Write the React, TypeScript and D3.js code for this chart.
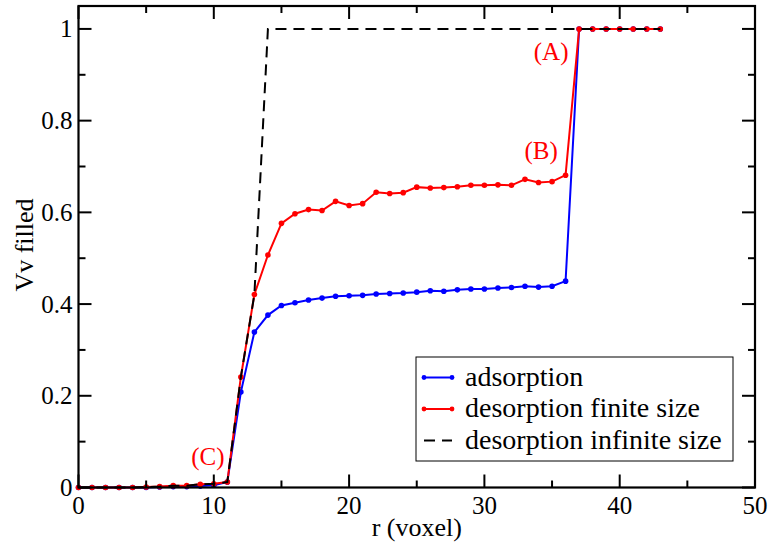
import React from "react";
import * as d3 from "d3";

const rValues = [0,1,2,3,4,5,6,7,8,9,10,11,12,13,14,15,16,17,18,19,20,21,22,23,24,25,26,27,28,29,30,31,32,33,34,35,36,37,38,39,40,41,42,43];
const adsorption = [0,0,0,0,0,0,0.001,0.002,0.002,0.003,0.005,0.012,0.208,0.339,0.376,0.397,0.403,0.409,0.413,0.417,0.418,0.419,0.422,0.423,0.424,0.426,0.429,0.428,0.431,0.433,0.433,0.435,0.436,0.439,0.437,0.439,0.450,1,1,1,1,1,1,1];
const desorptionFinite = [0,0,0,0,0,0.001,0.002,0.004,0.004,0.007,0.008,0.012,0.241,0.421,0.507,0.576,0.597,0.606,0.604,0.624,0.615,0.619,0.644,0.641,0.643,0.655,0.653,0.654,0.656,0.659,0.659,0.660,0.659,0.672,0.665,0.667,0.681,1,1,1,1,1,1,1];
const desorptionInfinite = [0,0,0,0,0,0.001,0.002,0.004,0.004,0.007,0.008,0.012,0.241,0.421,1,1,1,1,1,1,1,1,1,1,1,1,1,1,1,1,1,1,1,1,1,1,1,1,1,1,1,1,1,1];
const xTicks = [0,10,20,30,40,50];
const xMinor = [5,15,25,35,45];
const yTicks = [0,0.2,0.4,0.6,0.8,1];
const yTickLabels = ["0","0.2","0.4","0.6","0.8","1"];
const yMinor = [0.1,0.3,0.5,0.7,0.9];
const legendLabels = ["adsorption","desorption finite size","desorption infinite size"];
const annotations = [
  { label: "(A)", r: 37, v: 1 },
  { label: "(B)", r: 36, v: 0.681 },
  { label: "(C)", r: 11, v: 0.012 },
];

const W = 771, H = 547;
const L = 78.5, R = 755, T = 6, B = 487.5;
const FONT = "'Liberation Serif', 'Times New Roman', serif";

export default function App() {
  const x = d3.scaleLinear().domain([0, 50]).range([L, R]);
  const y = d3.scaleLinear().domain([0, 1.05]).range([B, T]);
  const line = (vals: number[]) =>
    d3.line<number>().x((_, i) => x(rValues[i])).y((v) => y(v))(vals) || "";

  const annOffsets: Record<string, [number, number]> = {
    "(A)": [-28, 31],
    "(B)": [-24.5, -16],
    "(C)": [-19.5, -17],
  };

  return (
    <div style={{ position: "absolute", left: 0, top: 0 }}>
      <svg width={W} height={H} style={{ display: "block", background: "#fff" }} fontFamily={FONT}>
        <rect x={0} y={0} width={W} height={H} fill="#fff" />
        {/* series */}
        <path d={line(adsorption)} fill="none" stroke="#0000ff" strokeWidth={2} />
        {adsorption.map((v, i) => (
          <circle key={"a" + i} cx={x(rValues[i])} cy={y(v)} r={2.8} fill="#0000ff" />
        ))}
        <path d={line(desorptionFinite)} fill="none" stroke="#ff0000" strokeWidth={2} />
        {desorptionFinite.map((v, i) => (
          <circle key={"d" + i} cx={x(rValues[i])} cy={y(v)} r={2.8} fill="#ff0000" />
        ))}
        <path d={line(desorptionInfinite)} fill="none" stroke="#000" strokeWidth={2} strokeDasharray="11,7" />

        {/* frame */}
        <rect x={L} y={T} width={R - L} height={B - T} fill="none" stroke="#000" strokeWidth={2.2} />
        {/* x ticks */}
        {xTicks.map((t) => (
          <g key={"xt" + t}>
            <line x1={x(t)} x2={x(t)} y1={B} y2={B - 13} stroke="#000" strokeWidth={2} />
            <line x1={x(t)} x2={x(t)} y1={T} y2={T + 13} stroke="#000" strokeWidth={2} />
            <text x={x(t)} y={513.5} textAnchor="middle" fontSize={25}>{t}</text>
          </g>
        ))}
        {xMinor.map((t) => (
          <g key={"xm" + t}>
            <line x1={x(t)} x2={x(t)} y1={B} y2={B - 7} stroke="#000" strokeWidth={2} />
            <line x1={x(t)} x2={x(t)} y1={T} y2={T + 7} stroke="#000" strokeWidth={2} />
          </g>
        ))}
        {yTicks.map((t, i) => (
          <g key={"yt" + t}>
            <line x1={L} x2={L + 13} y1={y(t)} y2={y(t)} stroke="#000" strokeWidth={2} />
            <line x1={R} x2={R - 13} y1={y(t)} y2={y(t)} stroke="#000" strokeWidth={2} />
            <text x={72.5} y={y(t) + 8.5} textAnchor="end" fontSize={25}>{yTickLabels[i]}</text>
          </g>
        ))}
        {yMinor.map((t) => (
          <g key={"ym" + t}>
            <line x1={L} x2={L + 7} y1={y(t)} y2={y(t)} stroke="#000" strokeWidth={2} />
            <line x1={R} x2={R - 7} y1={y(t)} y2={y(t)} stroke="#000" strokeWidth={2} />
          </g>
        ))}
        {/* axis titles */}
        <text x={(L + R) / 2} y={535.5} textAnchor="middle" fontSize={26}>r (voxel)</text>
        <text transform={`translate(33,245) rotate(-90)`} textAnchor="middle" fontSize={26}>Vv filled</text>

        {/* annotations */}
        {annotations.map((a) => {
          const [dx, dy] = annOffsets[a.label];
          return (
            <text key={a.label} x={x(a.r) + dx} y={y(a.v) + dy} textAnchor="middle" fontSize={25} fill="#ff0000">
              {a.label}
            </text>
          );
        })}

        {/* legend */}
        <rect x={416} y={357} width={317} height={104} fill="#fff" stroke="#000" strokeWidth={1} />
        {legendLabels.map((lab, i) => {
          const cy = 377.5 + i * 31.5;
          return (
            <g key={lab}>
              {i === 0 && (
                <>
                  <line x1={424} x2={452} y1={cy} y2={cy} stroke="#0000ff" strokeWidth={2} />
                  <circle cx={424} cy={cy} r={2.4} fill="#0000ff" />
                  <circle cx={452} cy={cy} r={2.4} fill="#0000ff" />
                </>
              )}
              {i === 1 && (
                <>
                  <line x1={424} x2={452} y1={cy} y2={cy} stroke="#ff0000" strokeWidth={2} />
                  <circle cx={424} cy={cy} r={2.4} fill="#ff0000" />
                  <circle cx={452} cy={cy} r={2.4} fill="#ff0000" />
                </>
              )}
              {i === 2 && (
                <line x1={424} x2={452} y1={cy} y2={cy} stroke="#000" strokeWidth={2} strokeDasharray="11,7" />
              )}
              <text x={465} y={cy + 8} fontSize={28}>{lab}</text>
            </g>
          );
        })}
      </svg>
    </div>
  );
}
